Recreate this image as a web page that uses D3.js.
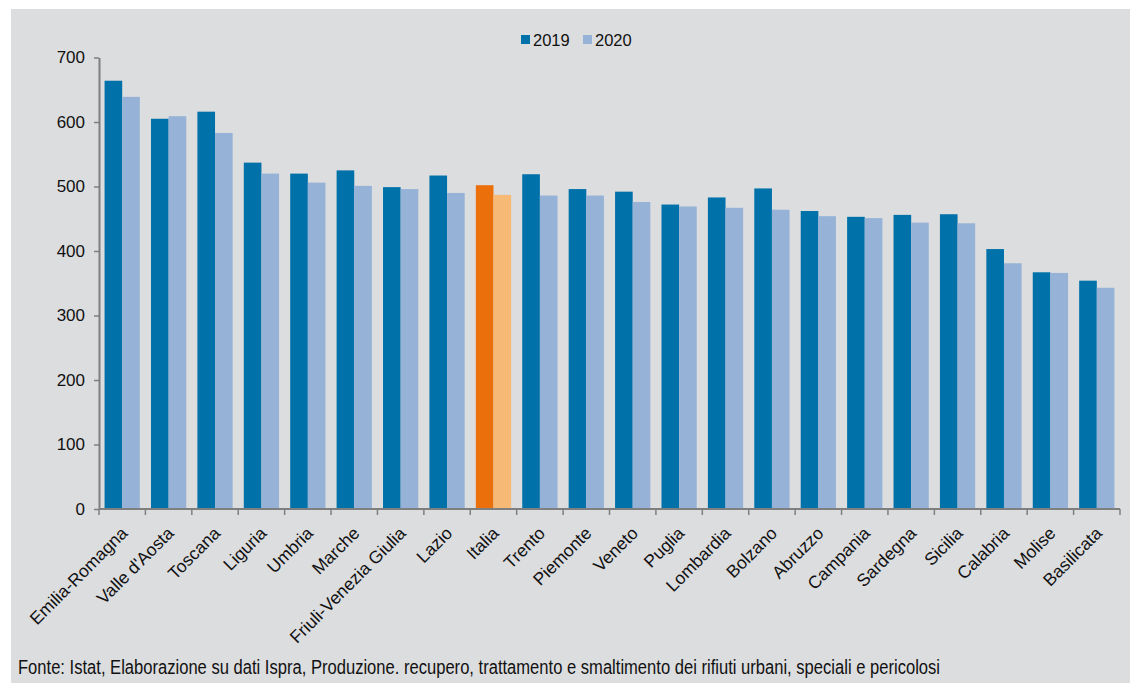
<!DOCTYPE html>
<html>
<head>
<meta charset="utf-8">
<script src="https://cdn.jsdelivr.net/npm/d3@7/dist/d3.min.js"></script>
<style>
  html, body { margin: 0; padding: 0; background: #ffffff; }
  svg { display: block; }
  text { font-family: "Liberation Sans", Arial, sans-serif; fill: #111; }
</style>
</head>
<body>
<svg id="chart" width="1130" height="683"></svg>
<script>
const categories = ["Emilia-Romagna","Valle d'Aosta","Toscana","Liguria","Umbria","Marche","Friuli-Venezia Giulia","Lazio","Italia","Trento","Piemonte","Veneto","Puglia","Lombardia","Bolzano","Abruzzo","Campania","Sardegna","Sicilia","Calabria","Molise","Basilicata"];
const values2019 = [664,605,616,537,520,525,499,517,502,519,496,492,472,483,497,462,453,456,457,403,367,354];
const values2020 = [639,609,583,520,506,501,496,490,487,486,486,476,469,467,464,454,451,444,443,381,366,343];
const seriesNames = ["2019","2020"];
const yTicks = [0,100,200,300,400,500,600,700];
const highlight = "Italia";
const sourceNote = "Fonte: Istat, Elaborazione su dati Ispra, Produzione. recupero, trattamento e smaltimento dei rifiuti urbani, speciali e pericolosi";

const colors = {"2019": "#0071a9", "2020": "#96b3d7"};
const hiColors = {"2019": "#eb6f0a", "2020": "#f6b976"};

const svg = d3.select("#chart");
const W = 1130, H = 683;
const x0 = d3.scaleBand().domain(categories).range([99, 1120]).padding(0);
const x1 = d3.scaleBand().domain(seriesNames).range([x0.bandwidth()*0.12, x0.bandwidth()*0.88]).padding(0);
const y = d3.scaleLinear().domain([0, 700]).range([509, 57.5]);

// panel background
svg.append("rect").attr("x", 11).attr("y", 9).attr("width", W - 11).attr("height", H - 9).attr("fill", "#dcdddf");

const data = categories.map((c, i) => ({cat: c, vals: [{s: "2019", v: values2019[i]}, {s: "2020", v: values2020[i]}]}));

const g = svg.append("g").selectAll("g").data(data).join("g")
  .attr("transform", d => `translate(${x0(d.cat)},0)`);
g.selectAll("rect").data(d => d.vals.map(v => ({...v, cat: d.cat}))).join("rect")
  .attr("x", d => x1(d.s))
  .attr("width", x1.bandwidth())
  .attr("y", d => y(d.v))
  .attr("height", d => y(0) - y(d.v))
  .attr("fill", d => d.cat === highlight ? hiColors[d.s] : colors[d.s]);

// y axis
const yAxis = svg.append("g").attr("transform", "translate(99,0)")
  .call(d3.axisLeft(y).tickValues(yTicks).tickSize(5).tickPadding(9).tickSizeOuter(0));
yAxis.select(".domain").attr("stroke", "#7f7f7f").attr("stroke-width", 2);
yAxis.selectAll(".tick line").attr("stroke", "#7f7f7f").attr("stroke-width", 1.5);
yAxis.selectAll(".tick text").attr("font-size", 17).attr("fill", "#111")
  .style("font-family", '"Liberation Sans", Arial, sans-serif');

// x axis line and ticks at band boundaries
const xg = svg.append("g");
xg.append("line").attr("x1", 99).attr("x2", 1120).attr("y1", y(0)).attr("y2", y(0))
  .attr("stroke", "#7f7f7f").attr("stroke-width", 2);
const bounds = categories.map(c => x0(c)).concat([x0(categories[categories.length-1]) + x0.bandwidth()]);
xg.selectAll("line.tk").data(bounds).join("line").attr("class", "tk")
  .attr("x1", d => d).attr("x2", d => d).attr("y1", y(0)).attr("y2", y(0) + 6)
  .attr("stroke", "#7f7f7f").attr("stroke-width", 1.5);
xg.selectAll("text").data(categories).join("text")
  .attr("transform", c => `translate(${x0(c) + x0.bandwidth()/2 + 2},${y(0) + 21}) rotate(-45)`)
  .attr("text-anchor", "end")
  .attr("dy", "0.35em")
  .attr("font-size", 17.5)
  .text(c => c);

// legend
const lg = svg.append("g").attr("transform", "translate(521,0)");
const legendItems = lg.selectAll("g").data(seriesNames).join("g")
  .attr("transform", (d, i) => `translate(${i * 62},0)`);
legendItems.append("rect").attr("x", 0).attr("y", 35).attr("width", 9).attr("height", 9)
  .attr("fill", d => colors[d]);
legendItems.append("text").attr("x", 12).attr("y", 45.5).attr("font-size", 16.5).text(d => d);

// source note
svg.append("text").attr("x", 18).attr("y", 674)
  .attr("font-size", 19.5)
  .attr("fill", "#333")
  .style("font-family", '"Liberation Sans Narrow", "Arial Narrow", "Liberation Sans", sans-serif')
  .attr("textLength", 922).attr("lengthAdjust", "spacingAndGlyphs")
  .text(sourceNote);
</script>
</body>
</html>
